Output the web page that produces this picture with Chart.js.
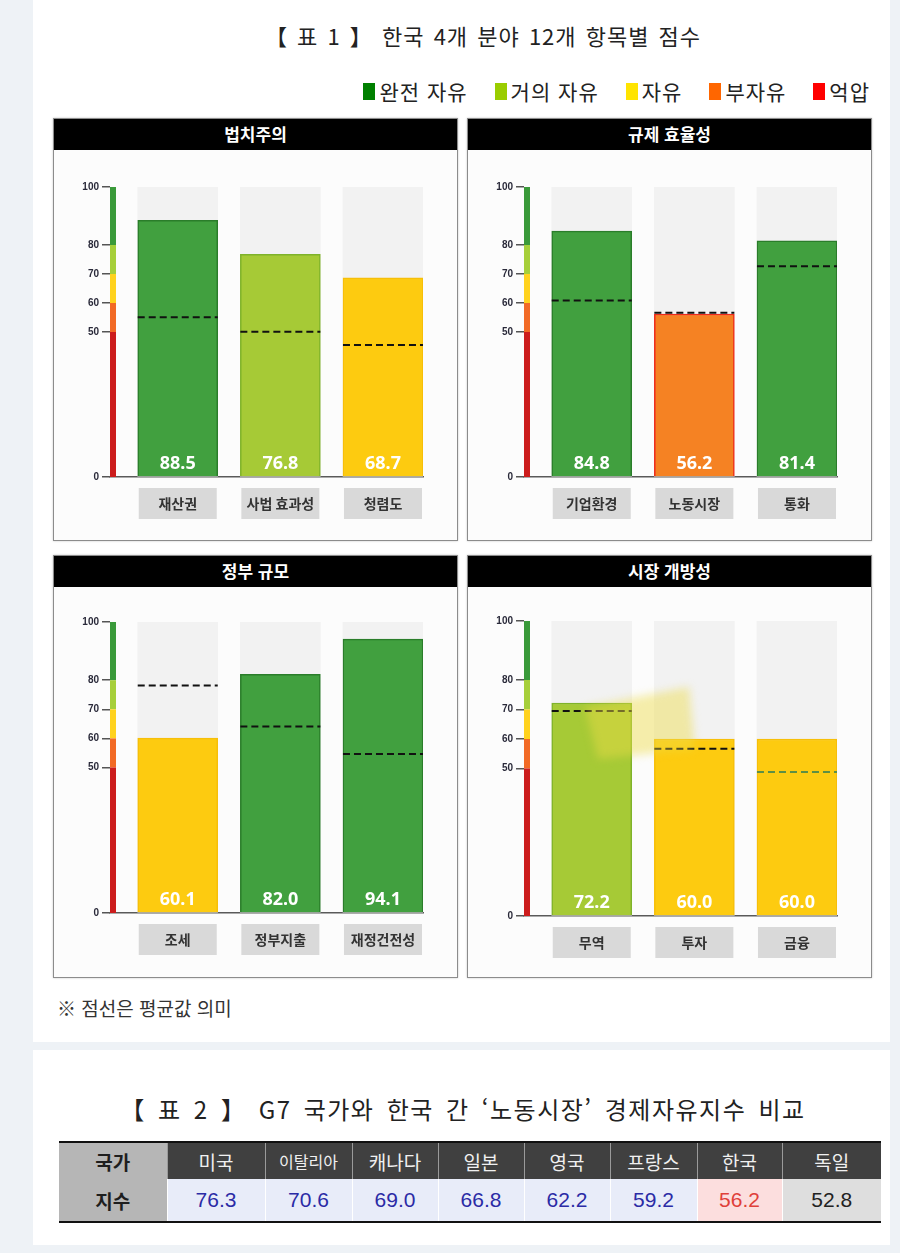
<!DOCTYPE html>
<html lang="ko">
<head>
<meta charset="utf-8">
<title>한국 4개 분야 12개 항목별 점수</title>
<script src="https://cdn.jsdelivr.net/npm/chart.js@4.4.1/dist/chart.umd.min.js"></script>
<style>
  html, body { margin: 0; padding: 0; }
  body { width: 900px; height: 1253px; background: #eef2f6; position: relative; overflow: hidden;
         font-family: "Noto Sans CJK KR", sans-serif; color: #222; }
  .sheet { position: absolute; left: 33px; width: 857px; background: #fff; }
  #sheet1 { top: 0; height: 1042px; }
  #sheet2 { top: 1050px; height: 195px; }
  .title { position: absolute; white-space: nowrap; transform: translate(-50%, -50%); color: #222; }
  #title1 { left: 483px; top: 35px; font-size: 22px; letter-spacing: 1px; word-spacing: 2px; }
  #title2 { left: 463px; top: 1108px; font-size: 24px; letter-spacing: 1.5px; word-spacing: 4px; }
  #legend { position: absolute; right: 30px; top: 79px; display: flex; gap: 27px;
            font-size: 21px; line-height: 24px; letter-spacing: 1px; color: #222; }
  #legend span.item { display: flex; align-items: center; }
  #legend i { display: inline-block; width: 12px; height: 17px; margin-right: 4px; }
  .panel { position: absolute; width: 405px; height: 423px; box-sizing: border-box;
           border: 1px solid #8c8c8c; background: #fcfcfc; box-shadow: 0 0 2px #c8c8c8; }
  .panel .head { height: 31px; background: #000; color: #fff; text-align: center;
                 font-size: 17px; font-weight: bold; line-height: 30px; }
  .panel canvas { display: block; }
  .note { position: absolute; left: 57px; top: 994px; font-size: 19px; color: #333; }
  .marker { position: absolute; left: 579px; top: 681px; width: 124px; height: 84px; filter: blur(4px); }
  .marker div { width: 100%; height: 100%; background: rgba(238, 220, 70, 0.45);
                clip-path: polygon(6px 26px, 110px 6px, 116px 68px, 19px 78px); }
  #g7 { position: absolute; left: 59px; top: 1141px; border-collapse: collapse; table-layout: fixed;
        border-top: 2px solid #111; border-bottom: 2px solid #111; }
  #g7 td { text-align: center; padding: 0; }
  #g7 tr.head td { height: 36px; background: #404040; color: #f0f0f0; font-size: 19px;
                   border-left: 1px solid #9a9a9a; }
  #g7 tr.vals td { height: 42px; background: #e8ecf9; color: #2b2ba6; font-size: 21px;
                   font-family: "Liberation Sans Narrow", "Liberation Sans", sans-serif;
                   border-left: 1px solid #fff; }
  #g7 td.rowhead { background: #b6b6b6 !important; color: #1e1e1e !important; font-weight: bold;
                   font-size: 19px !important; border-left: none !important;
                   font-family: "Noto Sans CJK KR", sans-serif !important; }
</style>
</head>
<body>
<div class="sheet" id="sheet1"></div>
<div class="sheet" id="sheet2"></div>

<div class="title" id="title1">【 표 1 】 한국 4개 분야 12개 항목별 점수</div>
<div id="legend"></div>

<div class="panel" style="left:53px; top:118px;"><div class="head">법치주의</div><canvas id="rule" width="403" height="390"></canvas></div>
<div class="panel" style="left:467px; top:118px;"><div class="head">규제 효율성</div><canvas id="reg" width="403" height="390"></canvas></div>
<div class="panel" style="left:53px; top:555px;"><div class="head">정부 규모</div><canvas id="gov" width="403" height="390"></canvas></div>
<div class="panel" style="left:467px; top:555px;"><div class="head">시장 개방성</div><canvas id="open" width="403" height="390"></canvas></div>
<div class="marker"><div></div></div>

<div class="note">※ 점선은 평균값 의미</div>

<div class="title" id="title2">【 표 2 】 G7 국가와 한국 간 ‘노동시장’ 경제자유지수 비교</div>
<table id="g7"></table>

<script>
// levels of economic freedom (lower bound of each level)
const levelNames = ["완전 자유", "거의 자유", "자유", "부자유", "억압"];
const levelFloors = [80, 70, 60, 50, 0];
const yTicks = [0, 50, 60, 70, 80, 100];

// 법치주의
const ruleItems = ["재산권", "사법 효과성", "청렴도"];
const ruleScores = [88.5, 76.8, 68.7];
const ruleAverages = [55.1, 50.1, 45.5];

// 규제 효율성
const regItems = ["기업환경", "노동시장", "통화"];
const regScores = [84.8, 56.2, 81.4];
const regAverages = [60.9, 56.6, 72.7];

// 정부 규모
const govItems = ["조세", "정부지출", "재정건전성"];
const govScores = [60.1, 82.0, 94.1];
const govAverages = [78.2, 64.1, 54.6];

// 시장 개방성
const openItems = ["무역", "투자", "금융"];
const openScores = [72.2, 60.0, 60.0];
const openAverages = [69.5, 56.7, 48.8];

// 노동시장 G7 비교
const g7Countries = ["미국", "이탈리아", "캐나다", "일본", "영국", "프랑스", "한국", "독일"];
const g7LaborScores = [76.3, 70.6, 69.0, 66.8, 62.2, 59.2, 56.2, 52.8];

// colours
const legendColors = ["#008000", "#9acd00", "#ffe400", "#ff6600", "#ff0000"];
const barFill = ["#41a03f", "#a6ca36", "#fdcb10", "#f58223", "#cc2020"];
const barEdge = ["#2a7d2a", "#7fb32a", "#f7bf08", "#ee2a1a", "#aa1010"];
const bandColors = ["#3a9a3a", "#a6cf3a", "#ffd21e", "#f26a25", "#cc1c1c"];

function levelOf(v) {
  return levelFloors.findIndex((f) => v >= f);
}

// legend
const legend = document.getElementById("legend");
legend.innerHTML = levelNames
  .map((n, i) => `<span class="item"><i style="background:${legendColors[i]}"></i>${n}</span>`)
  .join("");

function makeDecor(items, scores, averages, dashColors) {
  return {
    id: "panelDecor",
    afterDatasetsDraw(chart) {
      const { ctx, chartArea: a, scales: { y } } = chart;
      const bars = chart.getDatasetMeta(0).data;
      ctx.save();
      // coloured band along the y axis
      for (let k = 0; k < bandColors.length; k++) {
        const top = y.getPixelForValue(k === 0 ? 100 : levelFloors[k - 1]);
        const bot = y.getPixelForValue(levelFloors[k]);
        ctx.fillStyle = bandColors[k];
        ctx.fillRect(a.left, top, 6, bot - top);
      }
      bars.forEach((bar, i) => {
        const half = bar.width / 2;
        // average (dashed)
        const ya = y.getPixelForValue(averages[i]);
        ctx.setLineDash([7, 4]);
        ctx.lineWidth = 2;
        ctx.strokeStyle = dashColors[i];
        ctx.beginPath();
        ctx.moveTo(bar.x - half, ya);
        ctx.lineTo(bar.x + half, ya);
        ctx.stroke();
        ctx.setLineDash([]);
        // score inside the bar
        ctx.textAlign = "center";
        ctx.textBaseline = "middle";
        ctx.fillStyle = "#fff";
        ctx.font = 'bold 18px "Noto Sans", sans-serif';
        ctx.fillText(scores[i].toFixed(1), bar.x, a.bottom - 13);
        // category box
        ctx.fillStyle = "#d9d9d9";
        ctx.fillRect(bar.x - half + 1, a.bottom + 11, bar.width - 2, 31);
        ctx.fillStyle = "#333";
        ctx.font = 'bold 14px "Noto Sans CJK KR", sans-serif';
        ctx.fillText(items[i], bar.x, a.bottom + 27);
      });
      ctx.restore();
    },
  };
}

function makePanel(id, items, scores, averages, dashColors, padTop, padBottom) {
  const pts = scores.map((v, i) => ({ x: i, y: v }));
  const full = scores.map((v, i) => ({ x: i, y: 100 }));
  return new Chart(document.getElementById(id), {
    type: "bar",
    data: {
      datasets: [
        {
          data: pts,
          backgroundColor: scores.map((v) => barFill[levelOf(v)]),
          borderColor: scores.map((v) => barEdge[levelOf(v)]),
          borderWidth: 1.5,
          barThickness: 80,
          grouped: false,
          order: 1,
        },
        {
          data: full,
          backgroundColor: "#f2f2f2",
          borderWidth: 0,
          barThickness: 80,
          grouped: false,
          order: 2,
        },
      ],
    },
    options: {
      responsive: false,
      animation: false,
      layout: { padding: { top: padTop, right: 34, bottom: padBottom, left: 0 } },
      plugins: { legend: { display: false }, tooltip: { enabled: false } },
      scales: {
        x: {
          type: "linear",
          offset: false,
          min: -0.66,
          max: 2.39,
          ticks: { display: false },
          grid: { display: false, drawTicks: false },
          border: { display: true, color: "#5a5a5a", width: 1.5 },
          afterFit: (s) => { s.height = 0; },
        },
        y: {
          min: 0,
          max: 100,
          afterBuildTicks: (s) => { s.ticks = yTicks.map((v) => ({ value: v })); },
          ticks: {
            autoSkip: false,
            padding: 3,
            color: "#2a2a3a",
            font: { size: 10, weight: "bold", family: '"Liberation Sans Narrow", "Liberation Sans", sans-serif' },
          },
          grid: { drawOnChartArea: false, drawTicks: true, tickLength: 8, color: "#555", lineWidth: 1.5 },
          border: { display: false },
          afterFit: (s) => { s.width = 56; },
        },
      },
    },
    plugins: [makeDecor(items, scores, averages, dashColors)],
  });
}

makePanel("rule", ruleItems, ruleScores, ruleAverages, ["#111", "#111", "#111"], 37, 63);
makePanel("reg", regItems, regScores, regAverages, ["#111", "#111", "#111"], 37, 63);
makePanel("gov", govItems, govScores, govAverages, ["#111", "#111", "#111"], 35, 64);
makePanel("open", openItems, openScores, openAverages, ["#111", "#111", "#5d8f45"], 34, 61);

// G7 table
const colWidths = [108, 98, 87, 86, 86, 86, 87, 85, 99];
const korea = g7LaborScores[g7Countries.indexOf("한국")];
const table = document.getElementById("g7");
let html = "<colgroup>" + colWidths.map((w) => `<col style="width:${w}px">`).join("") + "</colgroup>";
html += '<tr class="head"><td class="rowhead">국가</td>' +
  g7Countries.map((c) => `<td${c.length > 3 ? ' style="font-size:16px"' : ""}>${c}</td>`).join("") + "</tr>";
html += '<tr class="vals"><td class="rowhead">지수</td>' +
  g7LaborScores.map((v) => {
    let st = "";
    if (v === korea) st = ' style="background:#fcdede;color:#e0403a"';
    else if (v < korea) st = ' style="background:#dedede;color:#222"';
    return `<td${st}>${v.toFixed(1)}</td>`;
  }).join("") + "</tr>";
table.innerHTML = html;
</script>
</body>
</html>
